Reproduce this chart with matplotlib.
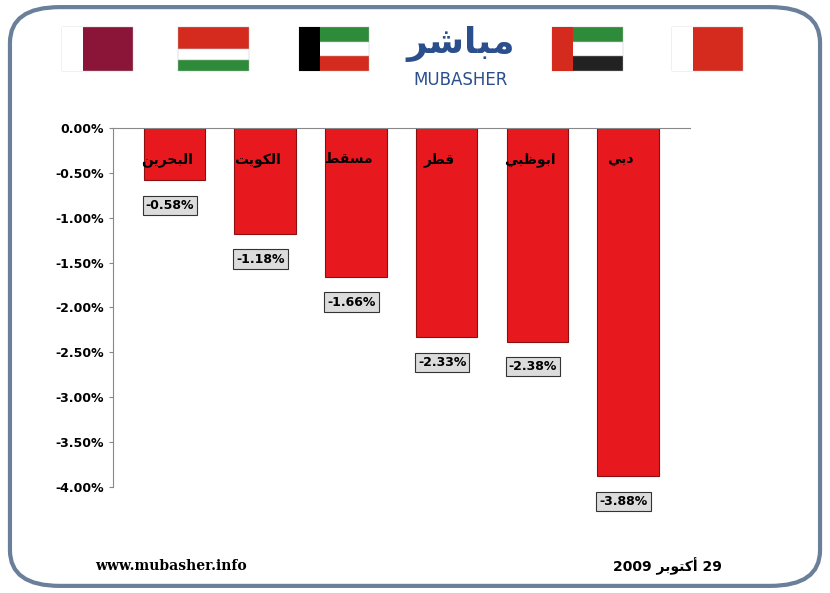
import matplotlib

matplotlib.use("Agg")
import matplotlib.pyplot as plt
from matplotlib.patches import FancyBboxPatch, Rectangle

markets = ["البحرين", "الكويت", "مسقط", "قطر", "ابوظبي", "دبي"]
changes = [-0.58, -1.18, -1.66, -2.33, -2.38, -3.88]
yticks = [0, -0.5, -1, -1.5, -2, -2.5, -3, -3.5, -4]

# minimal arabic shaping: (isolated, final, initial, medial)
FORMS = {
    "ا": (0xFE8D, 0xFE8E, None, None), "أ": (0xFE83, 0xFE84, None, None),
    "ب": (0xFE8F, 0xFE90, 0xFE91, 0xFE92), "ت": (0xFE95, 0xFE96, 0xFE97, 0xFE98),
    "ح": (0xFEA1, 0xFEA2, 0xFEA3, 0xFEA4), "د": (0xFEA9, 0xFEAA, None, None),
    "ر": (0xFEAD, 0xFEAE, None, None), "س": (0xFEB1, 0xFEB2, 0xFEB3, 0xFEB4),
    "ش": (0xFEB5, 0xFEB6, 0xFEB7, 0xFEB8), "ط": (0xFEC1, 0xFEC2, 0xFEC3, 0xFEC4),
    "ظ": (0xFEC5, 0xFEC6, 0xFEC7, 0xFEC8), "ق": (0xFED5, 0xFED6, 0xFED7, 0xFED8),
    "ك": (0xFED9, 0xFEDA, 0xFEDB, 0xFEDC), "ل": (0xFEDD, 0xFEDE, 0xFEDF, 0xFEE0),
    "م": (0xFEE1, 0xFEE2, 0xFEE3, 0xFEE4), "ن": (0xFEE5, 0xFEE6, 0xFEE7, 0xFEE8),
    "و": (0xFEED, 0xFEEE, None, None), "ي": (0xFEF1, 0xFEF2, 0xFEF3, 0xFEF4),
}


def shape(word):
    out = []
    for i, c in enumerate(word):
        f = FORMS[c]
        prev_joins = i > 0 and FORMS[word[i - 1]][2] is not None
        next_ok = i < len(word) - 1 and f[2] is not None
        if prev_joins and next_ok:
            g = f[3]
        elif prev_joins:
            g = f[1]
        elif next_ok:
            g = f[2]
        else:
            g = f[0]
        out.append(chr(g))
    return "".join(reversed(out))


fig = plt.figure(figsize=(8.3, 5.93), dpi=100)
fig.patch.set_facecolor("white")
fig.patches.append(FancyBboxPatch((0.012, 0.012), 0.976, 0.976, boxstyle="round,pad=0,rounding_size=0.06",
                                  transform=fig.transFigure, fill=False, edgecolor="#6a7f99", linewidth=3))

# flags (simple)
flags = [
    (0.075, [("#8a1538", 1.0)], "white"),
    (0.215, [("#d52b1e", 0.5), ("#ffffff", 0.25), ("#2e8b3a", 0.25)], None),
    (0.36, [("#2e8b3a", 1 / 3), ("#ffffff", 1 / 3), ("#d52b1e", 1 / 3)], "black"),
    (0.665, [("#2e8b3a", 1 / 3), ("#ffffff", 1 / 3), ("#222222", 1 / 3)], "#d52b1e"),
    (0.81, [("#d52b1e", 1.0)], "white"),
]
for x0, stripes, hoist in flags:
    y = 0.955
    for col, h in stripes:
        fig.patches.append(Rectangle((x0, y - h * 0.075), 0.085, h * 0.075, transform=fig.transFigure,
                                     facecolor=col, edgecolor="#bbbbbb", linewidth=0.3))
        y -= h * 0.075
    if hoist:
        fig.patches.append(Rectangle((x0, 0.88), 0.025, 0.075, transform=fig.transFigure,
                                     facecolor=hoist, edgecolor="none"))
fig.text(0.555, 0.925, shape("مباشر"), ha="center", va="center", fontsize=26, fontweight="bold",
         color="#2b4e8c", family="DejaVu Sans")
fig.text(0.555, 0.865, "MUBASHER", ha="center", va="center", fontsize=12, color="#2b4e8c")

ax = fig.add_axes([0.136, 0.179, 0.695, 0.605])
x = range(len(markets))
ax.bar(x, changes, width=0.68, color="#e8191e", edgecolor="#8b0f10", linewidth=0.8)
for i, (m, v) in enumerate(zip(markets, changes)):
    ax.text(i - 0.08, -0.35, shape(m), ha="center", va="center", fontsize=10, fontweight="bold",
            family="DejaVu Sans")
    ax.text(i - 0.05, v - 0.28, f"{v:.2f}%", ha="center", va="center", fontsize=9, fontweight="bold",
            bbox=dict(boxstyle="square,pad=0.25", facecolor="#dcdcdc", edgecolor="#333333", linewidth=0.8))

ax.set_xlim(-0.68, len(markets) - 0.32)
ax.set_ylim(-4, 0)
ax.set_yticks(yticks)
ax.set_yticklabels([f"{t:.2f}%" for t in yticks], fontsize=9, fontweight="bold")
ax.set_xticks([])
ax.spines["right"].set_visible(False)
ax.spines["bottom"].set_visible(False)
ax.spines["top"].set_color("#888888")
ax.spines["left"].set_color("#888888")
ax.tick_params(axis="y", length=3, color="#888888")

fig.text(0.115, 0.045, "www.mubasher.info", ha="left", va="center", fontsize=10, fontweight="bold",
         family="DejaVu Serif")
fig.text(0.87, 0.045, "2009 " + shape("أكتوبر") + " 29", ha="right", va="center", fontsize=10,
         fontweight="bold", family="DejaVu Sans")

fig.savefig("out.png", dpi=100)
